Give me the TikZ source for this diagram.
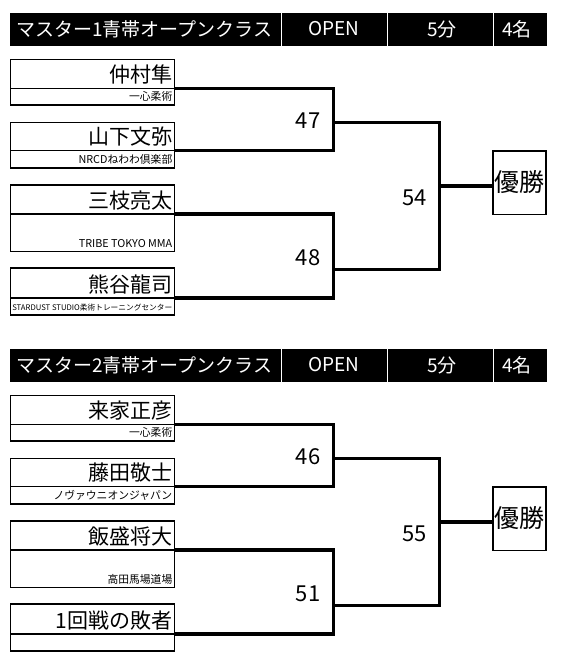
\documentclass[tikz,border=0pt]{standalone}
\usepackage{fontspec}
\setmainfont{Noto Sans CJK JP}
\usetikzlibrary{positioning}

\tikzset{
  cell/.style={line width=1.1pt},
  bracket/.style={line width=3.2pt},
  headtext/.style={text=white,inner sep=0pt,font=\fontsize{19}{19}\selectfont},
  player/.style={anchor=base east,inner sep=0pt,font=\fontsize{21}{21}\selectfont},
  club/.style={anchor=base east,inner sep=0pt,font=\fontsize{10.8}{10.8}\selectfont},
  matchno/.style={anchor=base east,inner sep=0pt,font=\fontsize{22}{22}\selectfont},
  winbox/.style={draw,line width=1.6pt,minimum width=53pt,minimum height=63.6pt,inner sep=0pt,font=\fontsize{25}{25}\selectfont},
}

\begin{document}
\begin{tikzpicture}[x=1pt,y=-1pt]
  \useasboundingbox (0,0) rectangle (580,664);

  % first class
  \fill (10,13) rectangle (547,45.5);
  \draw[white,line width=1pt] (281,13) -- (281,45.5) (387,13) -- (387,45.5) (493,13) -- (493,45.5);
  \node[headtext,anchor=west] (cls1) at (16,29) {マスター1青帯オープンクラス};
  \node[headtext] (open1) at (334,29) {OPEN};
  \node[headtext] (time1) at (442,29) {5分};
  \node[headtext] (cnt1) at (517,29) {4名};

  \draw[cell] (10.5,59.3) rectangle (174.3,105) (10.5,88.3) -- (174.3,88.3);
  \node[player] (p1) at (172.5,82.5) {仲村隼};
  \node[club] (c1) at (172.5,100.8) {一心柔術};
  \coordinate (e1) at (174.3,88.3);

  \draw[cell] (10.5,122.7) rectangle (174.3,168) (10.5,150.7) -- (174.3,150.7);
  \node[player] (p2) at (172.5,144.9) {山下文弥};
  \node[club] (c2) at (172.5,163.8) {NRCDねわわ倶楽部};
  \coordinate (e2) at (174.3,150.7);

  \draw[cell] (10.5,185) rectangle (174.3,251.7) (10.5,214) -- (174.3,214);
  \node[player] (p3) at (172.5,208.2) {三枝亮太};
  \node[club] (c3) at (172.5,247.5) {TRIBE TOKYO MMA};
  \coordinate (e3) at (174.3,214);

  \draw[cell] (10.5,268) rectangle (174.3,315) (10.5,298) -- (174.3,298);
  \node[player] (p4) at (172.5,292.2) {熊谷龍司};
  \node[club,font=\fontsize{7.7}{7.7}\selectfont] (c4) at (172.5,310.8) {STARDUST STUDIO柔術トレーニングセンター};
  \coordinate (e4) at (174.3,298);

  \coordinate (j47) at (333.3,122.7);
  \coordinate (j48) at (333.3,269.3);
  \coordinate (j54) at (439.3,186);
  \node[winbox] (win1) at (519.2,182.5) {優勝};
  \draw[bracket] (e1) -| (j47) |- (e2);
  \draw[bracket] (e3) -| (j48) |- (e4);
  \draw[bracket] (j47) -| (j54) |- (j48);
  \draw[bracket] (j54) -- (j54 -| win1.west);
  \node[matchno] (m47) at (320.5,128.3) {47};
  \node[matchno] (m48) at (320.5,265) {48};
  \node[matchno] (m54) at (427,205) {54};

  % second class
  \begin{scope}[yshift=-336pt]
    \fill (10,13) rectangle (547,45.5);
    \draw[white,line width=1pt] (281,13) -- (281,45.5) (387,13) -- (387,45.5) (493,13) -- (493,45.5);
    \node[headtext,anchor=west] (cls2) at (16,29) {マスター2青帯オープンクラス};
    \node[headtext] (open2) at (334,29) {OPEN};
    \node[headtext] (time2) at (442,29) {5分};
    \node[headtext] (cnt2) at (517,29) {4名};

    \draw[cell] (10.5,59.3) rectangle (174.3,105) (10.5,88.3) -- (174.3,88.3);
    \node[player] (p5) at (172.5,82.5) {来家正彦};
    \node[club] (c5) at (172.5,100.8) {一心柔術};
    \coordinate (e5) at (174.3,88.3);

    \draw[cell] (10.5,122.7) rectangle (174.3,168) (10.5,150.7) -- (174.3,150.7);
    \node[player] (p6) at (172.5,144.9) {藤田敬士};
    \node[club] (c6) at (172.5,163.8) {ノヴァウニオンジャパン};
    \coordinate (e6) at (174.3,150.7);

    \draw[cell] (10.5,185) rectangle (174.3,251.7) (10.5,214) -- (174.3,214);
    \node[player] (p7) at (172.5,208.2) {飯盛将大};
    \node[club] (c7) at (172.5,247.5) {高田馬場道場};
    \coordinate (e7) at (174.3,214);

    \draw[cell] (10.5,268) rectangle (174.3,315) (10.5,298) -- (174.3,298);
    \node[player] (p8) at (172.5,292.2) {1回戦の敗者};
    \coordinate (e8) at (174.3,298);

    \coordinate (j46) at (333.3,122.7);
    \coordinate (j51) at (333.3,269.3);
    \coordinate (j55) at (439.3,186);
    \node[winbox] (win2) at (519.2,182.5) {優勝};
    \draw[bracket] (e5) -| (j46) |- (e6);
    \draw[bracket] (e7) -| (j51) |- (e8);
    \draw[bracket] (j46) -| (j55) |- (j51);
    \draw[bracket] (j55) -- (j55 -| win2.west);
    \node[matchno] (m46) at (320.5,128.3) {46};
    \node[matchno] (m51) at (320.5,265) {51};
    \node[matchno] (m55) at (427,205) {55};
  \end{scope}
\end{tikzpicture}
\end{document}
